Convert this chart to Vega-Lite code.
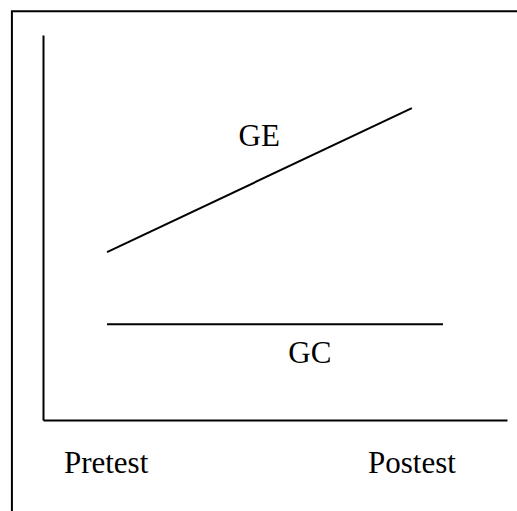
{
  "$schema": "https://vega.github.io/schema/vega-lite/v6.json",
  "width": 464,
  "height": 385,
  "autosize": {"type": "none"},
  "padding": {"left": 43, "top": 35, "right": 10, "bottom": 91},
  "background": "white",
  "config": {
    "view": {"stroke": null},
    "font": "Liberation Serif",
    "axis": {
      "domain": true,
      "domainColor": "black",
      "domainWidth": 2,
      "ticks": false,
      "labels": false,
      "grid": false,
      "title": null
    }
  },
  "datasets": {
    "frame": [{"left": -6.7, "right": 110, "top": 106.2, "bottom": -30}],
    "groups": [
      {"group": "GE", "time": 13.8, "score": 43.6},
      {"group": "GE", "time": 79.5, "score": 81.0},
      {"group": "GC", "time": 13.8, "score": 24.9},
      {"group": "GC", "time": 86.2, "score": 24.9}
    ],
    "labels": [
      {"text": "GE", "time": 46.6, "score": 71.2},
      {"text": "GC", "time": 57.5, "score": 14.8},
      {"text": "Pretest", "time": 13.6, "score": -13.8},
      {"text": "Postest", "time": 79.5, "score": -13.8}
    ]
  },
  "layer": [
    {
      "data": {"name": "groups"},
      "mark": {"type": "line", "color": "black", "strokeWidth": 2},
      "encoding": {
        "x": {"field": "time", "type": "quantitative", "scale": {"domain": [0, 100], "nice": false, "zero": false}, "axis": {}},
        "y": {"field": "score", "type": "quantitative", "scale": {"domain": [0, 100], "nice": false, "zero": false}, "axis": {}},
        "detail": {"field": "group"}
      }
    },
    {
      "data": {"name": "frame"},
      "mark": {"type": "rect", "fill": null, "stroke": "black", "strokeWidth": 2},
      "encoding": {
        "x": {"field": "left", "type": "quantitative"},
        "x2": {"field": "right"},
        "y": {"field": "top", "type": "quantitative"},
        "y2": {"field": "bottom"}
      }
    },
    {
      "data": {"name": "labels"},
      "mark": {"type": "text", "font": "Liberation Serif", "fontSize": 31, "align": "center", "baseline": "alphabetic", "color": "black"},
      "encoding": {
        "x": {"field": "time", "type": "quantitative"},
        "y": {"field": "score", "type": "quantitative"},
        "text": {"field": "text"}
      }
    }
  ]
}
